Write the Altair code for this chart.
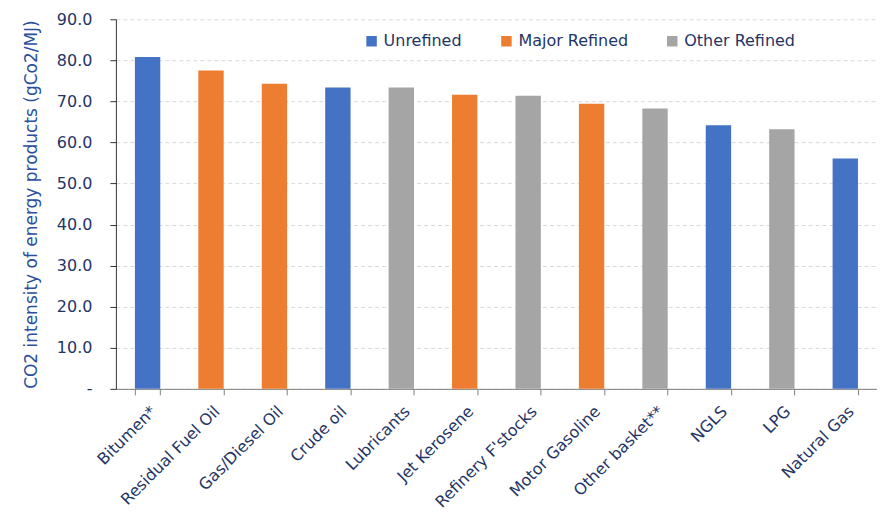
import altair as alt
import pandas as pd

categories = ["Bitumen*", "Residual Fuel Oil", "Gas/Diesel Oil", "Crude oil", "Lubricants",
              "Jet Kerosene", "Refinery F'stocks", "Motor Gasoline", "Other basket**", "NGLS",
              "LPG", "Natural Gas"]
values = [80.8, 77.5, 74.3, 73.4, 73.4, 71.6, 71.4, 69.4, 68.3, 64.2, 63.2, 56.1]
groups = ["Unrefined", "Major Refined", "Major Refined", "Unrefined", "Other Refined",
          "Major Refined", "Other Refined", "Major Refined", "Other Refined", "Unrefined",
          "Other Refined", "Unrefined"]
legend_order = ["Unrefined", "Major Refined", "Other Refined"]
colors = ["#4472C4", "#ED7D31", "#A5A5A5"]

df = pd.DataFrame({"cat": categories, "val": values, "grp": groups})

navy = "#1F3566"
font = "DejaVu Sans"

chart = alt.Chart(df).mark_bar().encode(
    x=alt.X("cat:N", sort=categories, title=None,
            scale=alt.Scale(paddingInner=0.6, paddingOuter=0.3),
            axis=alt.Axis(labelAngle=-45, labelAlign="right", labelBaseline="top",
                          labelFontSize=16, labelColor=navy, labelFont=font,
                          labelPadding=8, labelLimit=300,
                          tickBand="extent", tickColor="#7f7f7f", tickSize=6,
                          domainColor="#7f7f7f", grid=False)),
    y=alt.Y("val:Q", title="CO2 intensity of energy products (gCo2/MJ)",
            scale=alt.Scale(domain=[0, 90], nice=False),
            axis=alt.Axis(values=[0, 10, 20, 30, 40, 50, 60, 70, 80, 90],
                          labelExpr="datum.value == 0 ? '-' : format(datum.value, '.1f')",
                          labelFontSize=16, labelColor=navy, labelFont=font, labelPadding=18,
                          titleFontSize=17, titleColor="#2A4F9E", titleFont=font,
                          titleFontWeight="normal", titlePadding=16,
                          domainColor="#333333", tickColor="#333333", tickSize=6,
                          grid=True, gridColor="#D9D9D9", gridDash=[4, 3])),
    color=alt.Color("grp:N", sort=legend_order,
                    scale=alt.Scale(domain=legend_order, range=colors),
                    legend=alt.Legend(title=None, orient="none", direction="horizontal",
                                      legendX=248, legendY=14, symbolType="square",
                                      symbolSize=110, symbolStrokeWidth=0,
                                      labelFontSize=16, labelColor=navy, labelFont=font,
                                      columnPadding=36, labelOffset=4)),
).properties(
    width=762, height=370,
    autosize=alt.AutoSizeParams(type="none"),
    padding={"left": 108, "top": 11, "right": 0, "bottom": 128},
).configure_view(stroke=None)

chart.save("out.html", embed_options={"renderer": "svg", "actions": False})
